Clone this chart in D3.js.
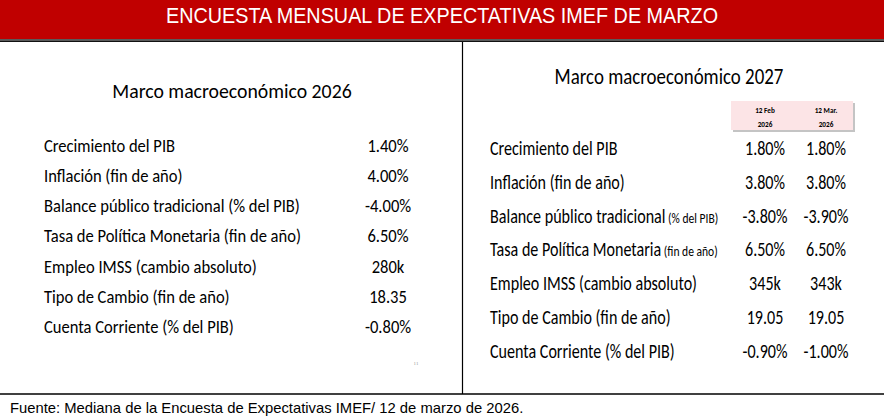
<!DOCTYPE html>
<html lang="es">
<head>
  <meta charset="UTF-8">
  <title>Encuesta IMEF</title>
  <style>
    body { margin: 0; background: #fff; }
    svg { display: block; }
    .cal { font-family: Carlito, Calibri, Lato, "Open Sans", sans-serif; fill: #000; }
    .head { font-family: "Liberation Sans Narrow", "Arial Narrow", "Liberation Sans", Arial, sans-serif; fill: #fff; }
    .foot { font-family: "Liberation Sans", Arial, sans-serif; fill: #000; }
  </style>
</head>
<body>
<svg width="884" height="420"></svg>

<script src="https://cdn.jsdelivr.net/npm/d3@7"></script>
<script>
  const title = "ENCUESTA MENSUAL DE EXPECTATIVAS IMEF DE MARZO";
  const source = "Fuente: Mediana de la Encuesta de Expectativas IMEF/ 12 de marzo de 2026.";

  // 2026 panel
  const title2026 = "Marco macroeconómico 2026";
  const labels2026 = [
    "Crecimiento del PIB",
    "Inflación (fin de año)",
    "Balance público tradicional (% del PIB)",
    "Tasa de Política Monetaria (fin de año)",
    "Empleo IMSS (cambio absoluto)",
    "Tipo de Cambio (fin de año)",
    "Cuenta Corriente (% del PIB)"
  ];
  const values2026 = ["1.40%", "4.00%", "-4.00%", "6.50%", "280k", "18.35", "-0.80%"];

  // 2027 panel
  const title2027 = "Marco macroeconómico 2027";
  const labels2027 = [
    "Crecimiento del PIB",
    "Inflación (fin de año)",
    "Balance público tradicional",
    "Tasa de Política Monetaria",
    "Empleo IMSS (cambio absoluto)",
    "Tipo de Cambio (fin de año)",
    "Cuenta Corriente (% del PIB)"
  ];
  const notes2027 = ["", "", "(% del PIB)", "(fin de año)", "", "", ""];
  const columns2027 = ["12 Feb|2026", "12 Mar.|2026"];
  const feb2027 = ["1.80%", "3.80%", "-3.80%", "6.50%", "345k", "19.05", "-0.90%"];
  const mar2027 = ["1.80%", "3.80%", "-3.90%", "6.50%", "343k", "19.05", "-1.00%"];

  const W = 884, H = 420;
  const svg = d3.select("svg");

  // narrow a text horizontally around its own x
  function squeeze(sel, sx) {
    sel.attr("transform", function () {
      const x = +d3.select(this).attr("x");
      return "translate(" + (x * (1 - sx)) + ",0) scale(" + sx + ",1)";
    });
  }

  // header bar
  svg.append("rect")
    .attr("x", 0).attr("y", 0)
    .attr("width", W).attr("height", 39)
    .attr("fill", "#c00000");
  svg.append("rect")
    .attr("x", 0).attr("y", 39)
    .attr("width", W).attr("height", 3)
    .attr("fill", "#5a5a5a");
  svg.append("line")
    .attr("x1", 0).attr("x2", W)
    .attr("y1", 41.5).attr("y2", 41.5)
    .attr("stroke", "#111").attr("stroke-width", 1);
  svg.append("text")
    .attr("class", "head")
    .attr("x", 442).attr("y", 23)
    .attr("text-anchor", "middle")
    .attr("font-size", 22.5)
    .text(title)
    .call(squeeze, 0.88);

  // dividers
  svg.append("line")
    .attr("x1", 462.5).attr("x2", 462.5)
    .attr("y1", 42).attr("y2", 394)
    .attr("stroke", "#000").attr("stroke-width", 1.2);
  svg.append("line")
    .attr("x1", 0).attr("x2", W)
    .attr("y1", 394).attr("y2", 394)
    .attr("stroke", "#000").attr("stroke-width", 1.5);

  svg.append("text")
    .attr("class", "foot")
    .attr("x", 10).attr("y", 413)
    .attr("font-size", 14.8)
    .text(source);

  // ---- left panel ----
  const left = svg.append("g");
  left.append("text")
    .attr("class", "cal")
    .attr("x", 232).attr("y", 98)
    .attr("text-anchor", "middle")
    .attr("font-size", 20.5)
    .text(title2026)
    .call(squeeze, 0.965);

  const yL = d3.scalePoint().domain(labels2026).range([152, 333]);

  left.selectAll(".lab")
    .data(labels2026)
    .join("text")
    .attr("class", "cal lab")
    .attr("x", 44)
    .attr("y", d => yL(d))
    .attr("font-size", 17.5)
    .text(d => d)
    .call(squeeze, 0.945);

  left.selectAll(".val")
    .data(values2026)
    .join("text")
    .attr("class", "cal val")
    .attr("x", 388)
    .attr("y", (d, i) => yL(labels2026[i]))
    .attr("text-anchor", "middle")
    .attr("font-size", 17.5)
    .text(d => d)
    .call(squeeze, 0.945);

  left.append("text")
    .attr("x", 416).attr("y", 365)
    .attr("text-anchor", "middle")
    .attr("font-size", 5)
    .attr("font-family", "serif")
    .attr("fill", "#999")
    .text("11");

  // ---- right panel ----
  const right = svg.append("g");
  right.append("text")
    .attr("class", "cal")
    .attr("x", 669).attr("y", 84)
    .attr("text-anchor", "middle")
    .attr("font-size", 22.5)
    .text(title2027)
    .call(squeeze, 0.84);

  const x2027 = d3.scalePoint().domain(columns2027).range([765, 826]);
  const yR = d3.scalePoint().domain(labels2027).range([155, 358]);

  // column header box
  right.append("rect")
    .attr("x", 733).attr("y", 103)
    .attr("width", 122).attr("height", 29)
    .attr("fill", "#c4c4c4");
  right.append("rect")
    .attr("x", 731).attr("y", 101)
    .attr("width", 122).attr("height", 29)
    .attr("fill", "#fce4e6");

  const colHead = right.selectAll(".colh")
    .data(columns2027)
    .join("text")
    .attr("class", "cal colh")
    .attr("x", d => x2027(d))
    .attr("text-anchor", "middle")
    .attr("font-size", 8.8)
    .attr("font-weight", "bold")
    .call(squeeze, 0.82);
  colHead.selectAll("tspan")
    .data(d => d.split("|"))
    .join("tspan")
    .attr("x", function () { return d3.select(this.parentNode).attr("x"); })
    .attr("y", (d, i) => 113 + i * 14)
    .text(d => d);

  const lab = right.selectAll(".rlab")
    .data(labels2027)
    .join("text")
    .attr("class", "cal rlab")
    .attr("x", 490)
    .attr("y", d => yR(d))
    .attr("font-size", 19.5)
    .call(squeeze, 0.825);
  lab.append("tspan").text(d => d);
  lab.append("tspan")
    .attr("font-size", 14)
    .text((d, i) => notes2027[i] ? " " + notes2027[i] : "");

  [feb2027, mar2027].forEach((series, k) => {
    right.selectAll(".rv" + k)
      .data(series)
      .join("text")
      .attr("class", "cal rv" + k)
      .attr("x", x2027(columns2027[k]))
      .attr("y", (d, i) => yR(labels2027[i]))
      .attr("text-anchor", "middle")
      .attr("font-size", 19.5)
      .text(d => d)
      .call(squeeze, 0.825);
  });
</script>
</body>
</html>
